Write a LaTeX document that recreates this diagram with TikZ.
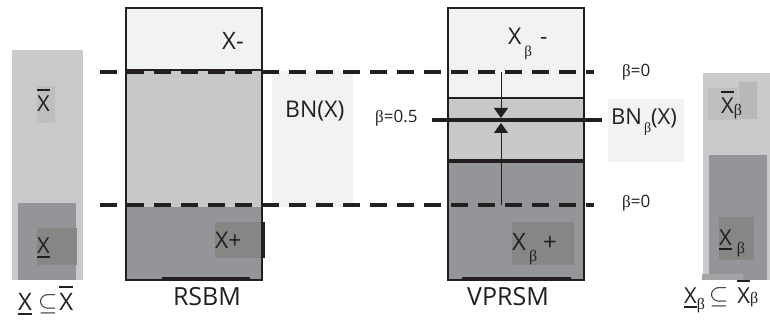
\documentclass[tikz,border=0pt]{standalone}
\usepackage{fontspec}
\setmainfont{Open Sans}
\newfontfamily\gk{Liberation Serif}
\usetikzlibrary{arrows.meta}
\definecolor{ink}{HTML}{231F20}
\definecolor{topc}{HTML}{F1F2F3}
\definecolor{midc}{HTML}{C7C8CA}
\definecolor{botc}{HTML}{939598}
\definecolor{dbox}{HTML}{868684}
\definecolor{lbox}{HTML}{BDBEC0}
\definecolor{lgray}{HTML}{C8C9CB}
\definecolor{stripc}{HTML}{A3A4A6}
\newcommand\fs[1]{\fontsize{#1}{#1}\selectfont}
\newcommand\myover[1]{\setbox0\hbox{#1}\rlap{\raisebox{\dimexpr\ht0+5pt\relax}{\rule{\wd0}{2pt}}}\box0}
\newcommand\myunder[1]{\setbox0\hbox{#1}\rlap{\raisebox{-5pt}{\rule{\wd0}{2pt}}}\box0}
\newcommand\gb{{\gk β}}
\tikzset{
  lbl/.style={inner sep=0pt, text=ink, anchor=base west},
  frame/.style={draw=ink, line width=2.5pt},
  dashline/.style={draw=ink, line width=3.5pt, dash pattern=on 17pt off 10pt},
  thickline/.style={draw=ink, line width=4pt},
  arr/.style={draw=ink, line width=1pt, -{Triangle[width=14pt,length=10pt]}}
}
\begin{document}
\begin{tikzpicture}[x=1pt,y=-1pt]
\useasboundingbox (0,0) rectangle (770,320);
% left column
\fill[lgray] (12,50) rectangle (83,280);
\fill[botc] (18,203) rectangle (76,280);
\fill[lbox] (37,86) rectangle (55,123);
\fill[dbox] (37,228) rectangle (77,265);
% RSBM
\fill[topc] (126,8) rectangle (262,71);
\fill[midc] (126,71) rectangle (262,207);
\fill[botc] (126,207) rectangle (262,280);
\fill[dbox] (215,222) rectangle (263,258);
% BN panel
\fill[topc] (272,71) rectangle (353,207);
% VPRSM
\fill[topc] (448,8) rectangle (584,98);
\fill[midc] (448,98) rectangle (584,162);
\fill[botc] (448,162) rectangle (584,280);
\fill[dbox] (512,222) rectangle (574,265);
% BN beta panel
\fill[topc] (608,99) rectangle (684,162);
% right column
\fill[lgray] (703,73) rectangle (770,280);
\fill[botc] (709,155) rectangle (767,280);
\fill[lbox] (708,88) rectangle (738,120);
\fill[lbox!97!black] (739,82) rectangle (757,119);
\fill[dbox] (719,217) rectangle (754,260);
\fill[stripc] (702,274) rectangle (743,280);

% RSBM frame and lines
\draw[frame] (126,8) rectangle (262,280);
\draw[ink, line width=2pt] (126,70) -- (262,70);
\draw[thickline] (263,222) -- (263,258);
\draw[ink, line width=3.5pt] (162,279) -- (250,279);
% VPRSM frame and lines
\draw[frame] (448,8) rectangle (584,280);
\draw[ink, line width=1.5pt] (448,98) -- (584,98);
\draw[ink, line width=3.5pt] (448,161) -- (584,161);
\draw[ink, line width=3.5pt] (462,279) -- (571,279);

% dashed beta=0 lines
\coordinate (d1a) at (100,72);
\coordinate (d1b) at (594,72);
\coordinate (d2a) at (100,205);
\coordinate (d2b) at (594,205);
\draw[dashline] (d1a) -- (d1b);
\draw[dashline] (d2a) -- (d2b);
% beta=0.5 line
\coordinate (h1) at (432,120);
\coordinate (h2) at (602,120);
\draw[thickline] (h1) -- (h2);
% arrows
\coordinate (a1) at (501,72);
\coordinate (a1t) at (501,118);
\coordinate (a2) at (501,205);
\coordinate (a2t) at (501,123);
\draw[arr] (a1) -- (a1t);
\draw[arr] (a2) -- (a2t);

% labels
\node[lbl, font=\fs{24}] (xm) at (222,50) {X-};
\node[lbl, font=\fs{23}] (xp) at (215,248) {X+};
\node[lbl, font=\fs{23}] (bn) at (285,118) {BN(X)};
\node[lbl, font=\fs{17}] (b05) at (375,123) {\gb=0.5};
\node[lbl, font=\fs{17}] (b0a) at (622,77) {\gb=0};
\node[lbl, font=\fs{17}] (b0b) at (622,208) {\gb=0};
\node[lbl, font=\fs{22}] (bnb) at (611,125) {BN\hspace{2pt}\raisebox{-8pt}{\fs{14}\gb}(X)};
\node[lbl, font=\fs{23}] (xbm) at (508,45) {X\hspace{3pt}\raisebox{-12pt}{\fs{15}\gb}\hspace{8pt}-};
\node[lbl, font=\fs{24}] (xbp) at (512,250) {X\hspace{3pt}\raisebox{-12pt}{\fs{16}\gb}\hspace{6pt}+};
\node[lbl, font=\fs{25}, anchor=base] (rsbm) at (207,305) {RSBM};
\node[lbl, font=\fs{25}, anchor=base] (vprsm) at (508,305) {VPRSM};
% left column labels
\node[lbl, font=\fs{22}] (lxo) at (37,112) {\myover{X}};
\node[lbl, font=\fs{22}] (lxu) at (37,253) {\myunder{X}};
\node[lbl, font=\fs{24}] (lcap) at (18,310) {\myunder{X}\hspace{6pt}{\fs{28}$\subseteq$}\hspace{2pt}\myover{X}};
% right column labels
\node[lbl, font=\fs{22}] (rxo) at (721,114) {\myover{X}\raisebox{-2pt}{\fs{16}\gb}};
\node[lbl, font=\fs{22}] (rxu) at (719,245) {\myunder{X}\hspace{5pt}\raisebox{-8pt}{\fs{16}\gb}};
\node[lbl, font=\fs{22}] (rcap) at (684,303) {\myunder{X}\raisebox{-6pt}{\fs{16}\gb}\hspace{4pt}{\fs{26}$\subseteq$}\hspace{9pt}\myover{X}{\fs{16}\gb}};
\end{tikzpicture}
\end{document}
